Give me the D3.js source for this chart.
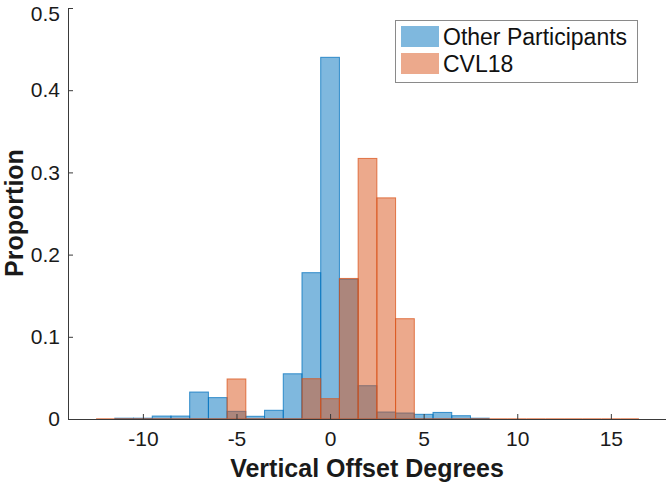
<!DOCTYPE html>
<html>
<head>
<meta charset="utf-8">
<script src="https://cdn.jsdelivr.net/npm/d3@7"></script>
<style>
  html, body { margin: 0; padding: 0; background: #fff; }
  svg { display: block; font-family: "Liberation Sans", Arial, Helvetica, sans-serif; }
</style>
</head>
<body>
<svg id="chart" width="666" height="485"></svg>
<script>
// ---- data (bin centers, bin width = 1 degree) ----
const otherCenters = [-11,-10,-9,-8,-7,-6,-5,-4,-3,-2,-1,0,1,2,3,4,5,6,7,8];
const otherValues  = [0.001,0.001,0.0036,0.0036,0.0328,0.026,0.0093,0.0033,0.0106,0.055,0.178,0.440,0.170,0.0405,0.0085,0.0073,0.0057,0.008,0.004,0.001];
const cvlCenters   = [-12,-11,-10,-9,-8,-7,-6,-5,-4,-3,-2,-1,0,1,2,3,4,5,6,7,8,9,10,11,12,13,14,15,16];
const cvlValues    = [0,0,0,0,0,0,0,0.0487,0,0,0,0.049,0.0247,0.171,0.317,0.269,0.122,0,0,0,0,0,0,0,0,0,0,0,0];
const xTicks = [-10,-5,0,5,10,15];
const yTicks = [0,0.1,0.2,0.3,0.4,0.5];
const seriesNames = ["Other Participants","CVL18"];
const binWidth = 1;

const svg = d3.select("#chart");
const x = d3.scaleLinear().domain([-14, 18]).range([68, 667]);
const y = d3.scaleLinear().domain([0, 0.5]).range([419, 8]);

const colors = ["#0072BD", "#D95319"];
const faceOpacity = 0.5;

function drawSeries(centers, values, color) {
  const g = svg.append("g");
  centers.forEach((c, i) => {
    const v = values[i];
    const x0 = x(c - binWidth/2), x1 = x(c + binWidth/2);
    if (v > 0) {
      g.append("rect")
        .attr("x", x0).attr("y", y(v))
        .attr("width", x1 - x0).attr("height", y(0) - y(v))
        .attr("fill", color).attr("fill-opacity", faceOpacity)
        .attr("stroke", color).attr("stroke-opacity", 0.75).attr("stroke-width", 1);
    } else {
      g.append("line")
        .attr("x1", x0).attr("x2", x1).attr("y1", y(0)).attr("y2", y(0))
        .attr("stroke", color).attr("stroke-opacity", 0.75).attr("stroke-width", 1.5);
    }
  });
}
drawSeries(otherCenters, otherValues, colors[0]);
drawSeries(cvlCenters, cvlValues, colors[1]);

// ---- axes ----
const axisColor = "#3a3a3a";
const xAxis = svg.append("g").attr("transform", `translate(0,${y(0)})`)
  .call(d3.axisBottom(x).tickValues(xTicks).tickSizeInner(-5).tickSizeOuter(0).tickPadding(12)
        .tickFormat(d => d3.format("d")(d)));
const yAxis = svg.append("g").attr("transform", `translate(${x.range()[0]},0)`)
  .call(d3.axisLeft(y).tickValues(yTicks).tickSizeInner(-5).tickSizeOuter(0).tickPadding(8)
        .tickFormat(d => d === 0 ? "0" : d3.format(".1f")(d)));
[xAxis, yAxis].forEach(a => {
  a.select(".domain").attr("stroke", axisColor).attr("stroke-width", 1);
  a.selectAll(".tick line").attr("stroke", axisColor);
  a.selectAll(".tick text").attr("fill", "#1a1a1a").style("font-size", "21px")
    .style("font-family", '"Liberation Sans", Arial, sans-serif');
});
xAxis.selectAll(".tick text").text(d => d < 0 ? "-" + Math.abs(d) : d);
yAxis.selectAll(".tick text").filter(d => Math.abs(d - 0.5) < 1e-9).attr("dy", "0.6em");

// ---- axis titles ----
svg.append("text")
  .attr("x", 367).attr("y", 477)
  .attr("text-anchor", "middle")
  .style("font-size", "25px").style("font-weight", "bold").attr("fill", "#1a1a1a")
  .text("Vertical Offset Degrees");
svg.append("text")
  .attr("transform", "translate(23,213) rotate(-90)")
  .attr("text-anchor", "middle")
  .style("font-size", "25px").style("font-weight", "bold").attr("fill", "#1a1a1a")
  .text("Proportion");

// ---- legend ----
const legend = svg.append("g");
legend.append("rect").attr("x", 395.5).attr("y", 20.5).attr("width", 242).attr("height", 62)
  .attr("fill", "#fff").attr("stroke", "#8a8a8a").attr("stroke-width", 1);
seriesNames.forEach((name, i) => {
  const yy = 26 + i * 27;
  legend.append("rect").attr("x", 401).attr("y", yy).attr("width", 38).attr("height", 21)
    .attr("fill", colors[i]).attr("fill-opacity", faceOpacity);
  legend.append("text").attr("x", 443).attr("y", yy + 18.5)
    .style("font-size", "23px").attr("fill", "#111").text(name);
});
</script>
</body>
</html>
